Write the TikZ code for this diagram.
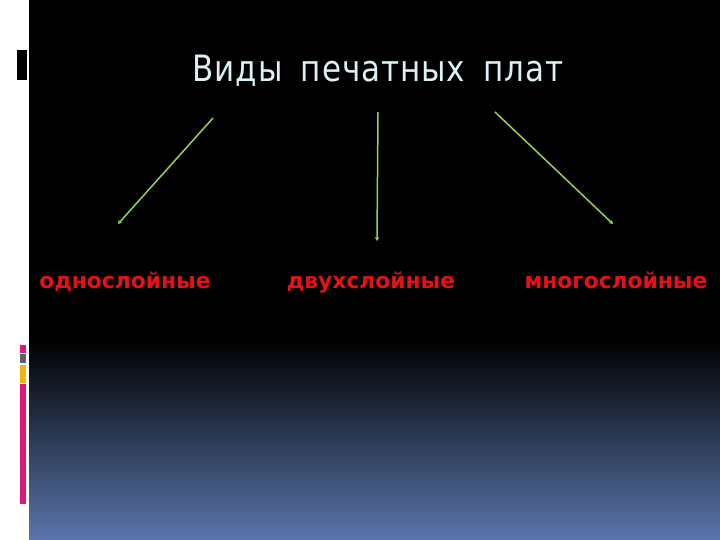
\documentclass[tikz,border=0pt]{standalone}
\usepackage{graphicx}
\usepackage{fontspec}
\setmainfont{DejaVu Sans}
\newfontfamily\titlefont[LetterSpace=3,WordSpace=1.7]{DejaVu Sans}
\usetikzlibrary{arrows.meta}

\definecolor{titlecol}{RGB}{220,240,246}
\definecolor{labelcol}{RGB}{226,18,24}
\definecolor{arrowcol}{RGB}{150,210,90}
\definecolor{bottomblue}{RGB}{90,118,172}
\definecolor{barpink}{RGB}{222,24,120}
\definecolor{bargrey}{RGB}{88,98,104}
\definecolor{baryellow}{RGB}{240,180,20}

\begin{document}
\begin{tikzpicture}[x=1pt,y=-1pt,
	kind/.style={text=labelcol,font=\bfseries\fontsize{21.8}{26}\selectfont,inner sep=0pt,anchor=base},
	branch/.style={draw=arrowcol,line width=1.5pt,-{Stealth[length=4pt,width=4.5pt]}}]
\useasboundingbox (0,0) rectangle (720,540);
\fill[white] (0,0) rectangle (720,540);
\fill[black] (29,0) rectangle (720,540);
\shade[top color=black,bottom color=bottomblue] (29,340) rectangle (720,540);
% left marks
\fill[black] (17,50) rectangle (27,80);
\fill[barpink] (20,345) rectangle (26,353);
\fill[bargrey] (20,354) rectangle (26,363);
\fill[baryellow] (20,365) rectangle (26,383);
\fill[barpink] (20,384) rectangle (26,504);

\node [text=titlecol,font=\titlefont\fontsize{31}{36}\selectfont,inner sep=0pt,anchor=base] (title) at (378,82) {\scalebox{1}[1.17]{Виды печатных плат}};

\node [kind] (one) at (125,288) {однослойные};
\node [kind] (two) at (371,288) {двухслойные};
\node [kind] (many) at (616,288) {многослойные};

\coordinate (s1) at (213,118);
\coordinate (s2) at (378,112);
\coordinate (s3) at (495,112);
\coordinate (e1) at (118,224);
\coordinate (e2) at (377,241);
\coordinate (e3) at (613,224);

\draw [branch] (s1) -- (e1);
\draw [branch] (s2) -- (e2);
\draw [branch] (s3) -- (e3);
\end{tikzpicture}
\end{document}
